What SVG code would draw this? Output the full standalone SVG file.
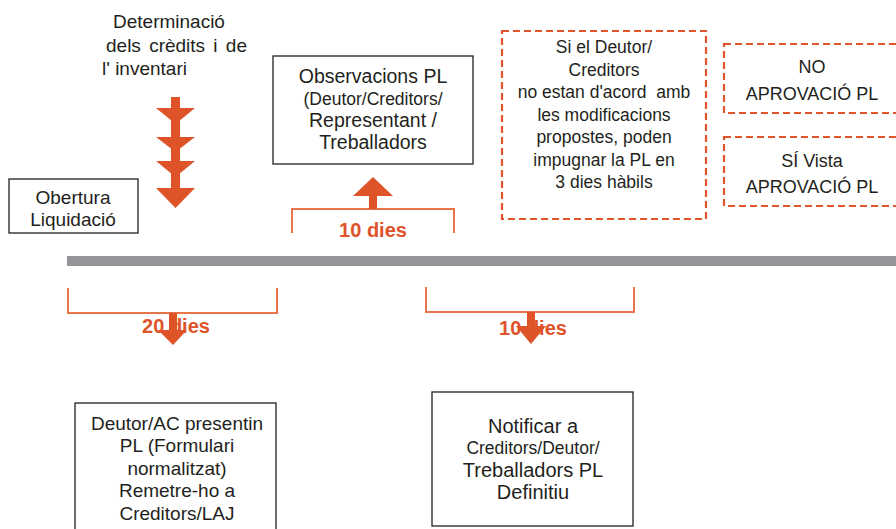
<svg xmlns="http://www.w3.org/2000/svg" width="896" height="529" viewBox="0 0 896 529">
<style>
text{font-family:"Liberation Sans",Arial,sans-serif;fill:#231f20;}
.c{text-anchor:middle;}
.box{fill:#fff;stroke:#231f20;stroke-width:1.3;}
.dash{fill:#fff;stroke:#e0552b;stroke-width:2.2;stroke-dasharray:7 4;}
.br{fill:none;stroke:#e8744c;stroke-width:2;}
.arr{fill:#df5328;}
.o{fill:#df5328;font-weight:bold;font-size:20px;text-anchor:middle;}
</style>
<rect width="896" height="529" fill="#fff"/>
<g id="determinacio" font-size="19">
<text x="113" y="28">Determinació</text>
<text x="106" y="52" word-spacing="3">dels crèdits i de</text>
<text x="102" y="75">l' inventari</text>
</g>
<g id="obertura">
<rect class="box" x="9" y="179" width="129" height="54"/>
<text class="c" x="73" y="204" font-size="19">Obertura</text>
<text class="c" x="73" y="226" font-size="19">Liquidació</text>
</g>
<g id="observacions">
<rect class="box" x="273" y="56" width="200" height="108"/>
<text class="c" x="373" y="83" font-size="19.5">Observacions PL</text>
<text class="c" x="373" y="105" font-size="17.5">(Deutor/Creditors/</text>
<text class="c" x="373" y="127" font-size="19.5">Representant /</text>
<text class="c" x="373" y="149" font-size="19.5">Treballadors</text>
</g>
<g id="impugnar">
<rect class="dash" x="502" y="31" width="204" height="188"/>
<g font-size="17.5">
<text class="c" x="604" y="53">Si el Deutor/</text>
<text class="c" x="604" y="76">Creditors</text>
<text class="c" x="604" y="98" xml:space="preserve">no estan d'acord  amb</text>
<text class="c" x="604" y="121">les modificacions</text>
<text class="c" x="604" y="143">propostes, poden</text>
<text class="c" x="604" y="166">impugnar la PL en</text>
<text class="c" x="604" y="188">3 dies hàbils</text>
</g>
</g>
<g id="no-aprovacio">
<rect class="dash" x="724" y="44" width="180" height="69"/>
<text class="c" x="812" y="73" font-size="18">NO</text>
<text class="c" x="812" y="100" font-size="18">APROVACIÓ PL</text>
</g>
<g id="si-aprovacio">
<rect class="dash" x="724" y="137" width="180" height="69"/>
<text class="c" x="812" y="167" font-size="18">SÍ Vista</text>
<text class="c" x="812" y="193" font-size="18">APROVACIÓ PL</text>
</g>
<g id="deutor-presentin">
<rect class="box" x="75" y="403" width="201" height="140"/>
<g font-size="19">
<text class="c" x="177" y="430">Deutor/AC presentin</text>
<text class="c" x="177" y="452">PL (Formulari</text>
<text class="c" x="177" y="475">normalitzat)</text>
<text class="c" x="177" y="497">Remetre-ho a</text>
<text class="c" x="177" y="520">Creditors/LAJ</text>
</g>
</g>
<g id="notificar">
<rect class="box" x="432" y="392" width="201" height="134"/>
<text class="c" x="533" y="433" font-size="20">Notificar a</text>
<text class="c" x="533" y="454" font-size="17.5">Creditors/Deutor/</text>
<text class="c" x="533" y="477" font-size="20">Treballadors PL</text>
<text class="c" x="533" y="499" font-size="20">Definitiu</text>
</g>
<g id="connectors">
<rect x="67" y="256" width="829" height="10" fill="#939598"/>
<g id="chain-arrow" class="arr">
<rect x="171" y="97" width="9" height="100"/>
<polygon points="156,108 195,108 175.5,124"/>
<polygon points="156,137 195,137 175.5,152"/>
<polygon points="156,161 195,161 175.5,177"/>
<polygon points="156,188 195,188 175.5,208"/>
</g>
<path class="br" d="M292,233 V209 H454 V233"/>
<rect class="arr" x="369" y="195" width="8" height="14"/>
<polygon class="arr" points="353,196 393,196 373,177"/>
<text class="o" x="373" y="237">10 dies</text>
<path class="br" d="M68,288 V313 H277 V288"/>
<text class="o" x="176" y="333">20 dies</text>
<rect class="arr" x="169" y="313" width="8" height="18"/>
<polygon class="arr" points="158,330 187,330 173,345"/>
<path class="br" d="M426,287 V312 H634 V287"/>
<text class="o" x="533" y="335">10 dies</text>
<rect class="arr" x="527" y="312" width="8" height="15"/>
<polygon class="arr" points="516,326 546,326 531,344"/>
</g>
</svg>
